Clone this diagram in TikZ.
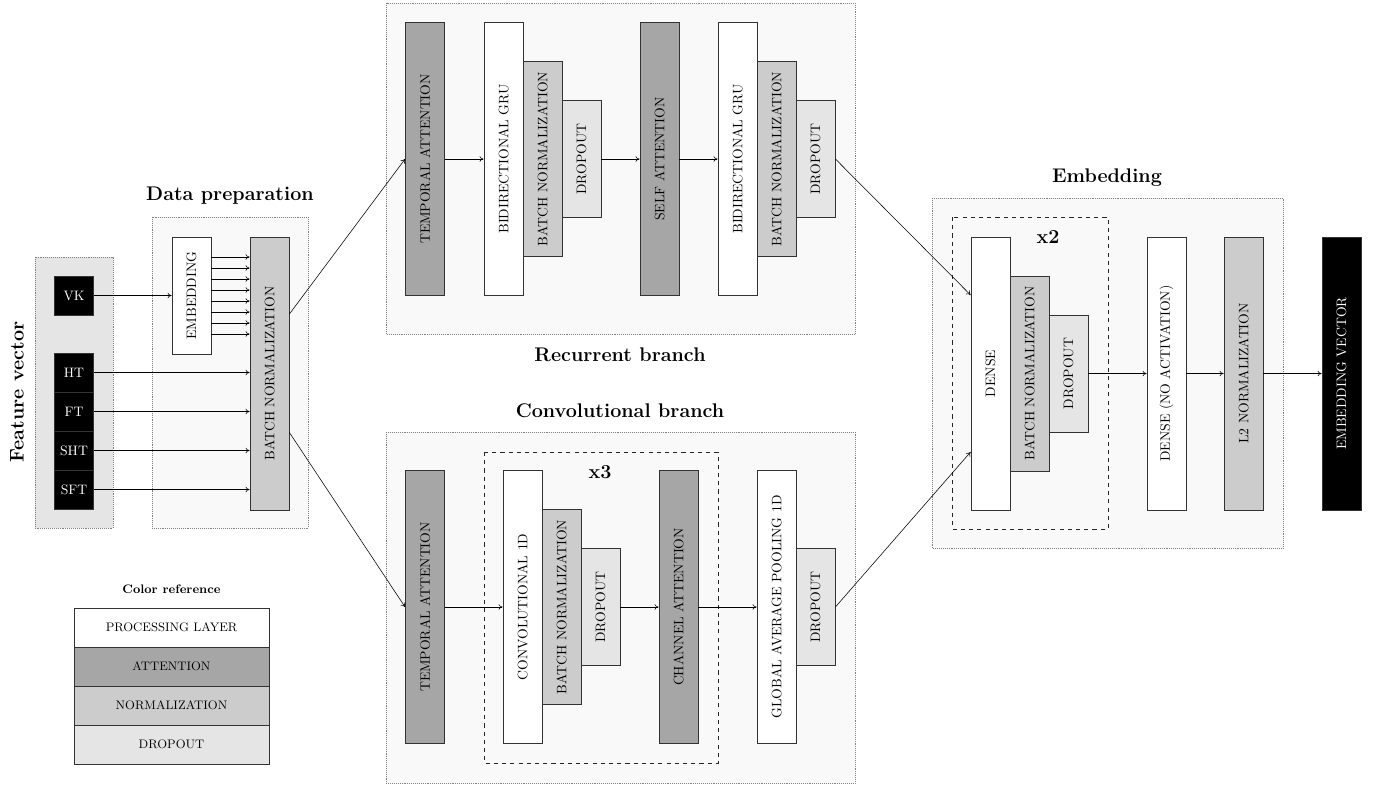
\documentclass[tikz,border=0pt]{standalone}
\usetikzlibrary{arrows.meta,calc}
\definecolor{attc}{gray}{0.65}
\definecolor{normc}{gray}{0.80}
\definecolor{dropc}{gray}{0.90}
\definecolor{grpbg}{gray}{0.975}
\definecolor{fvbg}{gray}{0.90}
\tikzset{
 blk/.style={draw=black!80, semithick, minimum width=1cm, inner sep=0pt, font=\normalsize},
 h7/.style={minimum height=7cm},
 h5/.style={minimum height=5cm},
 h3/.style={minimum height=3cm},
 h1/.style={minimum height=1cm},
 proc/.style={blk, fill=white},
 att/.style={blk, fill=attc},
 nrm/.style={blk, fill=normc},
 drp/.style={blk, fill=dropc},
 blackbox/.style={blk, fill=black, text=white},
 grp/.style={draw=gray, densely dotted, fill=grpbg},
 rep/.style={draw=black!85, dashed, semithick},
 ttl/.style={font=\Large\bfseries},
 conn/.style={-{To[length=3pt,width=4pt]}, black},
 refrow/.style={blk, minimum width=5cm, minimum height=1cm, font=\small}
}
\begin{document}
\begin{tikzpicture}[x=0.025641cm, y=-0.025641cm]
\useasboundingbox (0,0) rectangle (1375,785);

% group backgrounds
\path[grp, fill=fvbg] (35,257) rectangle (113,528);
\path[grp] (152,217) rectangle (308,528);
\path[grp] (386,3) rectangle (855,334);
\path[grp] (386,432) rectangle (855,783);
\path[grp] (932,198) rectangle (1283,548);
\draw[rep] (484,452) rectangle (718,763);
\draw[rep] (952,217) rectangle (1108,529);

% titles
\node[ttl, rotate=90] (tfv) at (17,392) {Feature vector};
\node[ttl] (tdp) at (230,196) {Data preparation};
\node[ttl] (trb) at (620,355) {Recurrent branch};
\node[ttl] (tcb) at (620,411) {Convolutional branch};
\node[ttl] (tem) at (1107,178) {Embedding};
\node[ttl] (tx3) at (600,472) {x3};
\node[ttl] (tx2) at (1048,237) {x2};

% feature vector
\node[blackbox, h1] (vk) at (74,295.5) {VK};
\node[blackbox, h1] (ht) at (74,372.5) {HT};
\node[blackbox, h1] (ft) at (74,411.5) {FT};
\node[blackbox, h1] (sht) at (74,450.5) {SHT};
\node[blackbox, h1] (sft) at (74,489.5) {SFT};

% data preparation
\node[proc, h3] (emb) at (191.5,295.5) {\rotatebox{90}{EMBEDDING}};
\node[nrm, h7] (bn0) at (269.5,373.5) {\rotatebox{90}{BATCH NORMALIZATION}};

\draw[conn] (vk) -- (emb);
\foreach \o in {-38.5,-27.5,-16.5,-5.5,5.5,16.5,27.5,38.5}
  \draw[conn] ($(emb.east)+(0,\o)$) -- ($(bn0.west)+(0,\o-78)$) ;
\foreach \n in {ht,ft,sht,sft}
  \draw[conn] (\n) -- (\n -| bn0.west);

% recurrent branch
\node[att, h7] (ta) at (425,159) {\rotatebox{90}{TEMPORAL ATTENTION}};
\node[proc, h7] (gru1) at (503.5,159) {\rotatebox{90}{BIDIRECTIONAL GRU}};
\node[nrm, h5] (bn1) at (542.5,159) {\rotatebox{90}{BATCH NORMALIZATION}};
\node[drp, h3] (do1) at (581.5,159) {\rotatebox{90}{DROPOUT}};
\node[att, h7] (sa) at (659.5,159) {\rotatebox{90}{SELF ATTENTION}};
\node[proc, h7] (gru2) at (737.5,159) {\rotatebox{90}{BIDIRECTIONAL GRU}};
\node[nrm, h5] (bn2) at (776.5,159) {\rotatebox{90}{BATCH NORMALIZATION}};
\node[drp, h3] (do2) at (815.5,159) {\rotatebox{90}{DROPOUT}};

\draw[conn] (ta) -- (gru1);
\draw[conn] (do1) -- (sa);
\draw[conn] (sa) -- (gru2);

% convolutional branch
\node[att, h7] (ta2) at (425,607) {\rotatebox{90}{TEMPORAL ATTENTION}};
\node[proc, h7] (conv) at (522.5,607) {\rotatebox{90}{CONVOLUTIONAL 1D}};
\node[nrm, h5] (bn3) at (561.5,607) {\rotatebox{90}{BATCH NORMALIZATION}};
\node[drp, h3] (do3) at (600.5,607) {\rotatebox{90}{DROPOUT}};
\node[att, h7] (ca) at (678.5,607) {\rotatebox{90}{CHANNEL ATTENTION}};
\node[proc, h7] (gap) at (776.5,607) {\rotatebox{90}{GLOBAL AVERAGE POOLING 1D}};
\node[drp, h3] (do4) at (815.5,607) {\rotatebox{90}{DROPOUT}};

\draw[conn] (ta2) -- (conv);
\draw[conn] (do3) -- (ca);
\draw[conn] (ca) -- (gap);

% embedding
\node[proc, h7] (dense) at (990.5,373.5) {\rotatebox{90}{DENSE}};
\node[nrm, h5] (bn4) at (1029.5,373.5) {\rotatebox{90}{BATCH NORMALIZATION}};
\node[drp, h3] (do5) at (1068.5,373.5) {\rotatebox{90}{DROPOUT}};
\node[proc, h7] (dna) at (1166.5,373.5) {\rotatebox{90}{DENSE (NO ACTIVATION)}};
\node[nrm, h7] (l2) at (1243.5,373.5) {\rotatebox{90}{L2 NORMALIZATION}};
\node[blackbox, h7] (ev) at (1341.5,373.5) {\rotatebox{90}{EMBEDDING VECTOR}};

\draw[conn] (do5) -- (dna);
\draw[conn] (dna) -- (l2);
\draw[conn] (l2) -- (ev);

% branch connections
\draw[conn] ($(bn0.east)+(0,-59.5)$) -- (ta.west);
\draw[conn] ($(bn0.east)+(0,59)$) -- (ta2.west);
\draw[conn] (do2.east) -- ($(dense.west)+(0,-78.5)$);
\draw[conn] (do4.east) -- ($(dense.west)+(0,78.5)$);

% color reference
\node[font=\small\bfseries] (tcr) at (171.5,589) {Color reference};
\node[refrow, fill=white] (cr1) at (171.5,627.5) {PROCESSING LAYER};
\node[refrow, fill=attc] (cr2) at (171.5,666.5) {ATTENTION};
\node[refrow, fill=normc] (cr3) at (171.5,705.5) {NORMALIZATION};
\node[refrow, fill=dropc] (cr4) at (171.5,744.5) {DROPOUT};
\end{tikzpicture}
\end{document}
